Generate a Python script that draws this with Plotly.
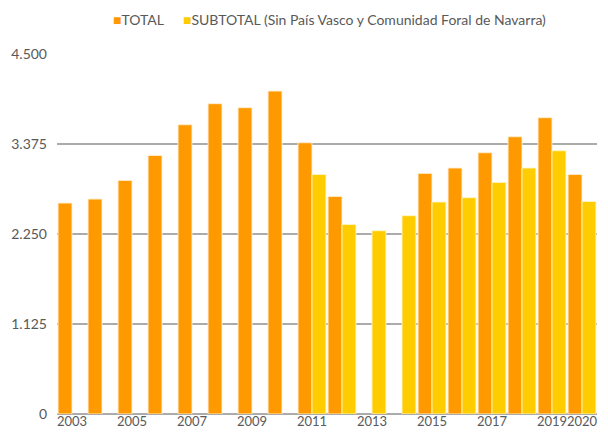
import plotly.graph_objects as go

years = [str(y) for y in range(2003, 2021)]
total = [2637, 2687, 2920, 3232, 3616, 3879, 3829, 4037, 3391, 2720,
         None, None, 3008, 3075, 3266, 3466, 3704, 2995]
subtotal = [None, None, None, None, None, None, None, None, 2995, 2370,
            2291, 2479, 2650, 2704, 2895, 3075, 3291, 2657]
y_ticks = [0, 1125, 2250, 3375, 4500]
x_ticks = ["2003", "2005", "2007", "2009", "2011", "2013", "2015", "2017", "2019", "2020"]

name_total = "TOTAL"
name_sub = "SUBTOTAL (Sin País Vasco y Comunidad Foral de Navarra)"
c_total = "#FF9900"
c_sub = "#FFCC00"

fig = go.Figure()
fig.add_trace(go.Bar(x=years, y=total, name=name_total, marker_color=c_total,
                     marker_line=dict(color="rgba(255,240,210,0.9)", width=1)))
fig.add_trace(go.Bar(x=years, y=subtotal, name=name_sub, marker_color=c_sub,
                     marker_line=dict(color="rgba(255,245,200,0.9)", width=1)))

font = "Lato, 'Open Sans', sans-serif"
# page body has an 8px margin; plot area on screen: x 57..597, y 54..414
fig.update_layout(
    width=608, height=432,
    margin=dict(l=49, r=19, t=46, b=26),
    paper_bgcolor="white", plot_bgcolor="white",
    barmode="group", bargap=0.07, bargroupgap=0,
    separators=",.",
    showlegend=False,
    font=dict(family=font, size=13.5, color="#595959"),
)
fig.update_yaxes(range=[0, 4500], tickvals=y_ticks, tickformat=",d",
                 showgrid=True, gridcolor="#ababab", gridwidth=1.5,
                 zeroline=True, zerolinecolor="#ababab", zerolinewidth=1.5,
                 showline=False, ticks="", ticklabelstandoff=9, automargin=False,
                 tickfont=dict(size=14, color="#595959"))
fig.update_xaxes(type="category", tickvals=x_ticks, ticktext=x_ticks,
                 tickangle=0, ticklabelstandoff=-2,
                 showgrid=False, showline=False, ticks="", automargin=False,
                 tickfont=dict(size=13, color="#595959"))

def px(x):
    return (x - 57) / 540

def py(y):
    return 1 + (54 - y) / 360

fig.add_annotation(xref="paper", yref="paper", x=px(111), y=py(20),
                   xanchor="left", yanchor="middle", showarrow=False,
                   text=f'<span style="color:{c_total}">■</span>{name_total}',
                   font=dict(size=14, color="#595959", family=font))
fig.add_annotation(xref="paper", yref="paper", x=px(181), y=py(20),
                   xanchor="left", yanchor="middle", showarrow=False,
                   text=f'<span style="color:{c_sub}">■</span>{name_sub}',
                   font=dict(size=14, color="#595959", family=font))

fig.write_html("out.html")
